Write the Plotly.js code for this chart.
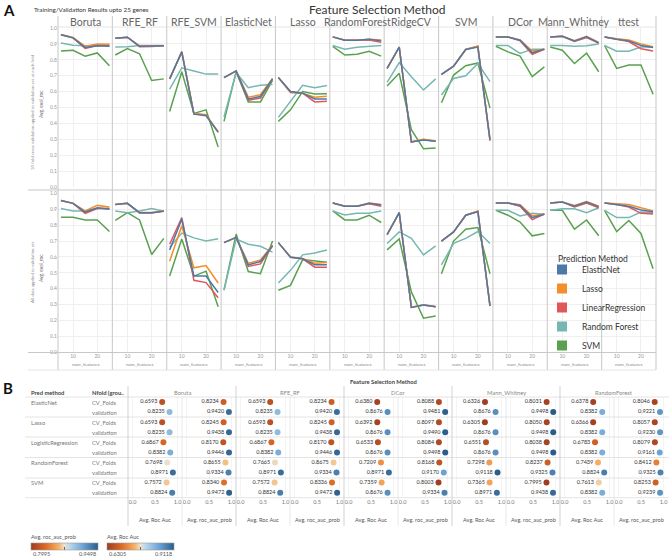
<!DOCTYPE html>
<html><head><meta charset="utf-8">
<script src="https://cdn.plot.ly/plotly-3.0.1.min.js"></script>
<style>html,body{margin:0;padding:0;background:#fff}#chart{width:669px;height:557px}</style>
</head><body><div id="chart"></div>
<script>
// ---------- Panel A data ----------
const numFeatures = [5, 10, 15, 20, 25];
const fsMethods = ['Boruta','RFE_RF','RFE_SVM','ElasticNet','Lasso','RandomForest','RidgeCV','SVM','DCor','Mann_Whitney','ttest'];
const predMethods = ['ElasticNet','Lasso','LinearRegression','Random Forest','SVM'];
const predColors = ['#4e79a7','#f28e2b','#e15759','#76b7b2','#59a14f'];

// 10 fold cross validation (top row); one row per feature selection method
const cvElasticNet = [
 [0.958,0.938,0.878,0.888,0.886],[0.935,0.942,0.885,0.885,0.888],[0.680,0.850,0.458,0.448,0.345],
 [0.688,0.730,0.554,0.569,0.680],[0.688,0.600,0.590,0.554,0.554],[0.944,0.923,0.923,0.929,0.919],
 [0.746,0.880,0.283,0.296,0.288],[0.708,0.760,0.865,0.880,0.298],[0.944,0.944,0.923,0.844,0.867],
 [0.944,0.948,0.919,0.944,0.906],[0.944,0.929,0.919,0.890,0.877]];
const cvLasso = [
 [0.960,0.940,0.885,0.900,0.898],[0.935,0.942,0.887,0.887,0.889],[0.680,0.850,0.462,0.452,0.348],
 [0.688,0.730,0.565,0.580,0.682],[0.688,0.600,0.590,0.565,0.570],[0.944,0.923,0.923,0.930,0.925],
 [0.746,0.880,0.285,0.300,0.290],[0.708,0.760,0.865,0.885,0.296],[0.944,0.944,0.925,0.855,0.866],
 [0.944,0.948,0.920,0.947,0.910],[0.944,0.932,0.925,0.900,0.882]];
const cvLinReg = [
 [0.958,0.938,0.872,0.890,0.890],[0.935,0.942,0.882,0.883,0.889],[0.680,0.850,0.460,0.455,0.344],
 [0.688,0.730,0.545,0.560,0.680],[0.688,0.595,0.590,0.535,0.540],[0.944,0.923,0.923,0.925,0.910],
 [0.746,0.880,0.283,0.298,0.288],[0.708,0.760,0.865,0.885,0.290],[0.944,0.944,0.920,0.835,0.866],
 [0.944,0.948,0.915,0.940,0.905],[0.944,0.930,0.915,0.870,0.855]];
const cvRandomForest = [
 [0.906,0.892,0.888,0.890,0.890],[0.880,0.882,0.890,0.892,0.890],[0.615,0.750,0.730,0.710,0.710],
 [0.440,0.720,0.625,0.640,0.645],[0.438,0.540,0.640,0.625,0.638],[0.890,0.867,0.879,0.883,0.890],
 [0.658,0.783,0.694,0.610,0.680],[0.579,0.683,0.700,0.777,0.663],[0.890,0.890,0.840,0.867,0.867],
 [0.890,0.890,0.885,0.888,0.900],[0.890,0.854,0.854,0.880,0.880]];
const cvSVM = [
 [0.855,0.860,0.823,0.843,0.763],[0.830,0.870,0.838,0.670,0.680],[0.475,0.725,0.463,0.485,0.252],
 [0.413,0.725,0.535,0.535,0.670],[0.413,0.485,0.600,0.585,0.587],[0.885,0.830,0.835,0.854,0.823],
 [0.635,0.715,0.360,0.240,0.245],[0.530,0.704,0.763,0.780,0.496],[0.885,0.850,0.823,0.694,0.756],
 [0.880,0.860,0.777,0.842,0.725],[0.890,0.746,0.767,0.767,0.583]];

// all data applied to validation set (bottom row)
const valElasticNet = [
 [0.956,0.938,0.883,0.910,0.900],[0.930,0.938,0.879,0.879,0.888],[0.644,0.838,0.479,0.479,0.375],
 [0.690,0.723,0.550,0.571,0.670],[0.690,0.598,0.588,0.550,0.550],[0.940,0.920,0.920,0.938,0.927],
 [0.740,0.879,0.281,0.296,0.285],[0.700,0.758,0.863,0.885,0.290],[0.940,0.940,0.925,0.848,0.869],
 [0.940,0.946,0.920,0.946,0.917],[0.940,0.930,0.920,0.896,0.885]];
const valLasso = [
 [0.956,0.938,0.890,0.925,0.915],[0.930,0.938,0.880,0.880,0.889],[0.573,0.796,0.531,0.546,0.435],
 [0.690,0.723,0.560,0.580,0.675],[0.690,0.600,0.590,0.560,0.565],[0.940,0.920,0.920,0.940,0.930],
 [0.740,0.879,0.283,0.298,0.287],[0.700,0.758,0.863,0.890,0.292],[0.940,0.940,0.930,0.860,0.870],
 [0.940,0.946,0.925,0.950,0.920],[0.940,0.935,0.930,0.910,0.890]];
const valLinReg = [
 [0.956,0.938,0.875,0.905,0.905],[0.930,0.938,0.877,0.877,0.889],[0.680,0.848,0.452,0.438,0.342],
 [0.690,0.723,0.540,0.556,0.670],[0.690,0.598,0.588,0.535,0.535],[0.940,0.920,0.920,0.935,0.920],
 [0.740,0.879,0.281,0.297,0.286],[0.700,0.758,0.863,0.888,0.291],[0.940,0.940,0.920,0.835,0.870],
 [0.940,0.946,0.915,0.940,0.910],[0.940,0.930,0.915,0.875,0.870]];
const valRandomForest = [
 [0.906,0.890,0.890,0.906,0.906],[0.890,0.879,0.890,0.906,0.888],[0.660,0.750,0.720,0.700,0.715],
 [0.390,0.713,0.680,0.667,0.630],[0.435,0.515,0.613,0.625,0.644],[0.890,0.865,0.875,0.875,0.890],
 [0.685,0.758,0.717,0.613,0.670],[0.550,0.685,0.717,0.760,0.685],[0.894,0.894,0.858,0.875,0.869],
 [0.894,0.904,0.904,0.879,0.910],[0.894,0.848,0.848,0.883,0.879]];
const valSVM = [
 [0.850,0.850,0.833,0.833,0.760],[0.830,0.879,0.833,0.615,0.717],[0.479,0.713,0.479,0.510,0.285],
 [0.390,0.744,0.508,0.494,0.700],[0.390,0.420,0.583,0.577,0.567],[0.890,0.833,0.833,0.863,0.817],
 [0.644,0.713,0.379,0.213,0.227],[0.494,0.700,0.775,0.785,0.494],[0.894,0.863,0.820,0.733,0.748],
 [0.894,0.894,0.775,0.833,0.733],[0.894,0.760,0.830,0.748,0.525]];

// ---------- Panel B data ----------
const bGroups = ['Boruta','RFE_RF','DCor','Mann_Whitney','RandomForest'];
const bPred = ['ElasticNet','Lasso','LogisticRegression','RandomForest','SVM'];
const bFolds = ['CV_Folds','validation'];
const bMetrics = ['Avg. Roc Auc','Avg. roc_auc_prob'];
const rocCV = [
 [0.6593,0.6593,0.6867,0.7698,0.7572],[0.6593,0.6593,0.6867,0.7665,0.7572],
 [0.6380,0.6392,0.6533,0.7209,0.7359],[0.6326,0.6305,0.6551,0.7298,0.7365],
 [0.6378,0.6366,0.6783,0.7439,0.7613]];
const rocVal = [
 [0.8235,0.8235,0.8382,0.8971,0.8824],[0.8235,0.8235,0.8382,0.8971,0.8824],
 [0.8676,0.8676,0.8676,0.8971,0.8676],[0.8676,0.8676,0.8676,0.9118,0.8971],
 [0.8382,0.8382,0.8382,0.8824,0.8382]];
const probCV = [
 [0.8234,0.8245,0.8170,0.8655,0.8340],[0.8234,0.8245,0.8170,0.8675,0.8336],
 [0.8088,0.8097,0.8084,0.8168,0.8003],[0.8031,0.8050,0.8038,0.8237,0.7995],
 [0.8046,0.8057,0.8079,0.8412,0.8253]];
const probVal = [
 [0.9420,0.9438,0.9446,0.9334,0.9472],[0.9420,0.9438,0.9446,0.9334,0.9472],
 [0.9481,0.9490,0.9498,0.9170,0.9334],[0.9498,0.9498,0.9498,0.9325,0.9438],
 [0.9221,0.9230,0.9161,0.9325,0.9239]];

// ---------- build ----------
const W=669,H=557;
const FONT='Lato, "Open Sans", "DejaVu Sans", sans-serif';
const fx=p=>p/W, fy=p=>1-p/H;
const sfx=n=>n===1?'':String(n);
const traces=[];
const annotations=[];
const shapes=[];
const layout={width:W,height:H,margin:{l:0,r:0,t:0,b:0},paper_bgcolor:'#fff',plot_bgcolor:'rgba(0,0,0,0)',
  font:{family:FONT,color:'#555'},showlegend:true,hovermode:false};
function ann(x,y,text,size,color,xanchor,extra){annotations.push(Object.assign({xref:'paper',yref:'paper',x:fx(x),y:fy(y),text:text,showarrow:false,xanchor:xanchor||'center',yanchor:'middle',font:{size:size,color:color||'#555',family:FONT}},extra||{}));}
function line(x0,y0,x1,y1,color,width){shapes.push({type:'line',xref:'paper',yref:'paper',x0:fx(x0),y0:fy(y0),x1:fx(x1),y1:fy(y1),line:{color:color,width:width}});}

// Panel A
const A_LEFT=58, A_RIGHT=656, cw=(A_RIGHT-A_LEFT)/11;
const rowsA=[
 {data:[cvElasticNet,cvLasso,cvLinReg,cvRandomForest,cvSVM],top:28,bot:187},
 {data:[valElasticNet,valLasso,valLinReg,valRandomForest,valSVM],top:193.5,bot:352}];
let n=0;
rowsA.forEach((row,r)=>{
  fsMethods.forEach((fs,c)=>{
    n++;
    const s=sfx(n);
    layout['xaxis'+s]={domain:[fx(A_LEFT+c*cw),fx(A_LEFT+(c+1)*cw)],range:[3.8,26.2],anchor:'y'+s,
      tickvals:[10,20],ticktext:['10','20'],showticklabels:r===1,ticks:'',showgrid:true,gridcolor:'#ebebeb',gridwidth:0.8,
      zeroline:false,showline:false,tickfont:{size:5,color:'#999'},fixedrange:true};
    layout['yaxis'+s]={domain:[fy(row.bot),fy(row.top)],range:[0,1],anchor:'x'+s,dtick:0.1,tick0:0,tickformat:'.1f',
      showticklabels:c===0,ticks:'',showgrid:true,gridcolor:'#ebebeb',gridwidth:0.8,zeroline:false,showline:false,
      tickfont:{size:5,color:'#999'},fixedrange:true};
    for(let m=4;m>=0;m--){
      traces.push({type:'scatter',mode:'lines',x:numFeatures,y:row.data[m][c],xaxis:'x'+s,yaxis:'y'+s,
        line:{color:predColors[m],width:1.5},showlegend:false,name:predMethods[m]});
    }
    if(r===0) ann(A_LEFT+(c+0.5)*cw,22,fs,10.5,'#666');
    if(r===1) ann(A_LEFT+(c+0.5)*cw,364,'num_features',4.6,'#888');
  });
});
// legend entries
predMethods.forEach((p,m)=>traces.push({type:'scatter',mode:'markers',x:[null],y:[null],xaxis:'x',yaxis:'y',name:p,
  marker:{symbol:'square',size:10,color:predColors[m]},showlegend:true}));
layout.legend={x:fx(542),y:fy(255),xanchor:'left',yanchor:'top',font:{size:8.5,color:'#333',family:FONT},
  bgcolor:'rgba(0,0,0,0)',itemwidth:30,tracegroupgap:0,traceorder:'normal'};
ann(556,259,'Prediction Method',8.5,'#333','left');

// panel A separators
for(let k=0;k<=11;k++) line(A_LEFT+k*cw,16,A_LEFT+k*cw,370,'#cccccc',1.1);
line(A_LEFT,27,A_RIGHT,27,'#dddddd',0.8);
line(28,190,A_RIGHT,190,'#c8c8c8',1.2);
line(28,352.5,A_RIGHT,352.5,'#c8c8c8',1.2);
line(28,370,A_RIGHT,370,'#dddddd',0.8);

// panel A titles
ann(1,10,'<b>A</b>',15,'#111','left');
ann(32,10,'Training/Validation Results upto 25 genes',6.3,'#333','left');
ann(377,10,'Feature Selection Method',12,'#333','center');
ann(32,112,'10 fold cross validation applied to validation set at each fold',4.4,'#888','center',{textangle:-90});
ann(41,104,'Avg. eval_roc',4.8,'#666','center',{textangle:-90});
ann(32,272,'All data applied to validation set',4.4,'#888','center',{textangle:-90});
ann(41,268,'Avg. eval_roc',4.8,'#666','center',{textangle:-90});

// Panel B
const B_LEFT=128, scw=54, B_TOP=397, B_BOT=497.7;
const allRoc=rocCV.flat().concat(rocVal.flat());
const allProb=probCV.flat().concat(probVal.flat());
const cs=[[0,'#9e3d22'],[0.22,'#dd6a26'],[0.42,'#f8b469'],[0.5,'#e9e3d6'],[0.58,'#b9d6ec'],[0.78,'#6aa3d4'],[1,'#2b5c8a']];
const scales=[{min:Math.min(...allRoc),max:Math.max(...allRoc),cv:rocCV,val:rocVal,cbx:107},
              {min:Math.min(...allProb),max:Math.max(...allProb),cv:probCV,val:probVal,cbx:31}];
for(let k=0;k<10;k++){
  n++;
  const s=sfx(n), g=Math.floor(k/2), mt=k%2, sc=scales[mt];
  layout['xaxis'+s]={domain:[fx(B_LEFT+k*scw),fx(B_LEFT+(k+1)*scw)],range:[-0.1,1.1],anchor:'y'+s,
    tickvals:[0,0.5,1],ticktext:['0.0','0.5','1.0'],ticks:'',tickfont:{size:5.5,color:'#777'},
    showgrid:true,gridcolor:'#f1f1f1',gridwidth:0.8,zeroline:false,showline:false,fixedrange:true};
  layout['yaxis'+s]={domain:[fy(B_BOT),fy(B_TOP)],range:[9.5,-0.5],anchor:'x'+s,showticklabels:false,
    showgrid:false,zeroline:false,showline:false,fixedrange:true};
  const xs=[],ys=[],tx=[];
  bPred.forEach((p,i)=>{bFolds.forEach((f,fi)=>{const v=fi===0?sc.cv[g][i]:sc.val[g][i];xs.push(v);ys.push(i*2+fi);tx.push(v.toFixed(4));});});
  const tr={type:'scatter',mode:'markers+text',x:xs,y:ys,text:tx,textposition:'middle left',
    textfont:{size:5.5,color:'#333',family:FONT},cliponaxis:false,xaxis:'x'+s,yaxis:'y'+s,showlegend:false,
    marker:{size:6,color:xs,colorscale:cs,cmin:sc.min,cmax:sc.max,showscale:(k<2)}};
  if(k<2){
    tr.marker.colorbar={orientation:'h',x:fx(sc.cbx),xanchor:'left',y:fy(542.5),yanchor:'top',len:67,lenmode:'pixels',
      thickness:6.5,thicknessmode:'pixels',xpad:0,ypad:0,outlinewidth:0.6,outlinecolor:'#999',
      tickvals:[(sc.min+sc.max)/2],ticks:'inside',ticklen:3,tickcolor:'#666',showticklabels:false};
  }
  traces.push(tr);
  ann(B_LEFT+(k+0.5)*scw,519,bMetrics[mt],5.6,'#555');
  if(mt===0) ann(B_LEFT+(k+1)*scw,392,bGroups[g],5.8,'#888');
}
// colorbar titles/labels
scales.forEach((sc,mt)=>{
  ann(sc.cbx-2,536,bMetrics[mt],5.6,'#555','left');
  ann(sc.cbx,554,sc.min.toFixed(4),5.5,'#555','left');
  ann(sc.cbx+67,554,sc.max.toFixed(4),5.5,'#555','right');
});
// panel B text
ann(1,388,'<b>B</b>',15,'#111','left');
ann(348,381,'<b>Feature Selection Method</b>',5.8,'#444','left');
ann(29,392,'<b>Pred method</b>',5.8,'#444','left');
ann(90,392,'<b>Nfold (grou..</b>',5.8,'#444','left');
bPred.forEach((p,i)=>{
  ann(29,B_TOP+(2*i+0.5)*(B_BOT-B_TOP)/10,p,5.8,'#777','left');
  bFolds.forEach((f,fi)=>ann(90,B_TOP+(2*i+fi+0.5)*(B_BOT-B_TOP)/10,f,5.8,'#777','left'));
});
// panel B lines
[B_TOP,417,437,457.5,478,B_BOT].forEach(y=>line(25,y,669,y,'#dddddd',0.8));
line(B_LEFT,386,B_LEFT,526,'#cccccc',0.9);
for(let g=1;g<5;g++) line(B_LEFT+2*g*scw,386,B_LEFT+2*g*scw,526,'#cccccc',0.9);
for(let g=0;g<5;g++) line(B_LEFT+(2*g+1)*scw,B_TOP,B_LEFT+(2*g+1)*scw,526,'#e2e2e2',0.8);

layout.annotations=annotations;
layout.shapes=shapes;
Plotly.newPlot('chart',traces,layout,{displayModeBar:false,staticPlot:true});
</script>
</body></html>
